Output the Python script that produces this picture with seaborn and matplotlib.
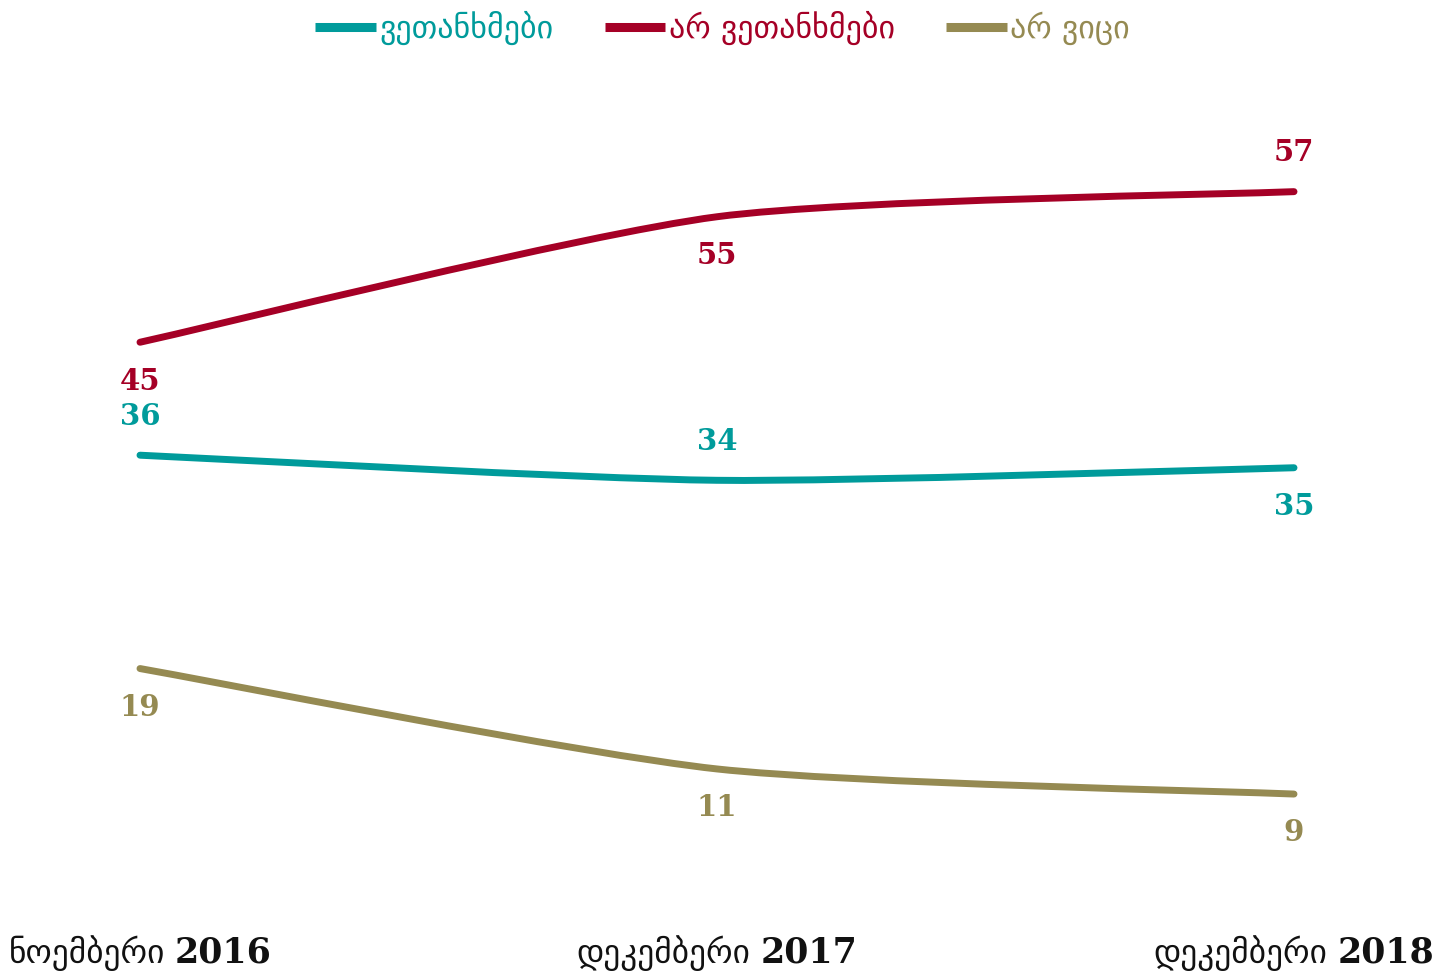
import numpy as np
import pandas as pd
import matplotlib
matplotlib.use("Agg")
import matplotlib.pyplot as plt
import seaborn as sns
from matplotlib.path import Path
from matplotlib.patches import PathPatch
from matplotlib.lines import Line2D
from matplotlib.offsetbox import TextArea, HPacker, AnnotationBbox

# données
mois = ["ნოემბერი", "დეკემბერი", "დეკემბერი"]
annees = ["2016", "2017", "2018"]
series = ["ვეთანხმები", "არ ვეთანხმები", "არ ვიცი"]
agree = [36, 34, 35]
disagree = [45, 55, 57]
dont_know = [19, 11, 9]

couleurs = ["#009b9b", "#a50026", "#958a52"]
# position des étiquettes : +1 au-dessus, -1 en dessous
positions = [[1, 1, -1], [-1, -1, 1], [-1, -1, -1]]

sns.set_theme(style="white")
plt.rcParams['font.family'] = ['DejaVu Sans']

df = pd.DataFrame({"x": range(len(annees)), series[0]: agree,
                   series[1]: disagree, series[2]: dont_know})

fig = plt.figure(figsize=(14.45, 9.74), dpi=100)
ax = fig.add_axes([0, 67 / 974, 1, 867 / 974])


def courbe_lisse(xs, ys, k=0.7):
    # courbe de Bézier (Catmull-Rom) passant par les points
    pts = np.column_stack([xs, ys]).astype(float)
    n = len(pts)
    verts = [pts[0]]
    codes = [Path.MOVETO]
    for i in range(n - 1):
        p0 = pts[max(i - 1, 0)]
        p1 = pts[i]
        p2 = pts[i + 1]
        p3 = pts[min(i + 2, n - 1)]
        c1 = p1 + k * (p2 - p0) / 6
        c2 = p2 - k * (p3 - p1) / 6
        verts += [c1, c2, p2]
        codes += [Path.CURVE4] * 3
    return Path(verts, codes)


for serie, couleur, pos in zip(series, couleurs, positions):
    patch = PathPatch(courbe_lisse(df["x"], df[serie]), fill=False,
                      edgecolor=couleur, lw=5, capstyle="round",
                      joinstyle="round")
    ax.add_patch(patch)
    for x, y, p in zip(df["x"], df[serie], pos):
        ax.annotate(str(y), (x, y), xytext=(0, 28 * p), textcoords="offset points",
                    ha="center", va="center", color=couleur, fontsize=21,
                    fontweight="bold", family="DejaVu Serif")

ax.set_xlim(-140 / 577, 2 + 151 / 577)
ax.set_ylim(0, 867 / 12.55)
ax.set_xticks([])
ax.set_yticks([])
sns.despine(ax=ax, left=True, bottom=True)

# étiquettes de l'axe x : mois + année en gras
for i, (m, a) in enumerate(zip(mois, annees)):
    box = HPacker(children=[
        TextArea(m, textprops=dict(fontsize=24, color="#111111")),
        TextArea(a, textprops=dict(fontsize=25, fontweight="bold", color="#111111",
                                   family="DejaVu Serif"))],
        sep=7, align="baseline", pad=0)
    ab = AnnotationBbox(box, (i, -46 / 867), xycoords=("data", "axes fraction"),
                        box_alignment=(0.5, 0.5), frameon=False, pad=0)
    ax.add_artist(ab)

handles = [Line2D([], [], color=c, lw=6.5, solid_capstyle="butt") for c in couleurs]
fig.legend(handles, series, loc="upper center", bbox_to_anchor=(0.5, 1.018),
           ncol=3, frameon=False, fontsize=23, handlelength=1.9,
           handletextpad=0.1, columnspacing=1.6, labelcolor="linecolor")

fig.savefig("out.png", dpi=100)
